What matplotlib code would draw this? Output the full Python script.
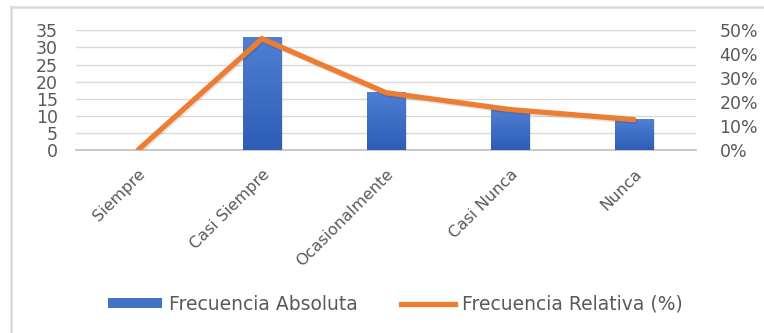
import matplotlib.pyplot as plt
import matplotlib.patheffects as pe
from matplotlib.lines import Line2D
from matplotlib.patches import Patch
from matplotlib.colors import LinearSegmentedColormap
from matplotlib.ticker import FuncFormatter
import numpy as np

plt.rcParams['font.family'] = ['DejaVu Sans']

categorias = ['Siempre', 'Casi Siempre', 'Ocasionalmente', 'Casi Nunca', 'Nunca']
absoluta = [0, 33, 17, 12, 9]
relativa = [0, 46.48, 23.94, 16.90, 12.68]  # porcentaje

texto = '#595959'
azul = '#4472C4'
naranja = '#ED7D31'

fig = plt.figure(figsize=(7.64, 3.33), dpi=100)
W, H = 764, 333
ax = fig.add_axes([76 / W, 1 - 150 / H, 620 / W, (150 - 30.3) / H])
x = np.arange(len(categorias))

# barras con degradado
bars = ax.bar(x, absoluta, width=0.31, color='none', zorder=3)
grad = np.linspace(0, 1, 64).reshape(-1, 1)
cmap = LinearSegmentedColormap.from_list('azul', ['#2d5db5', '#4f80d4'])
for b in bars:
    if b.get_height() <= 0:
        continue
    x0, w, h = b.get_x(), b.get_width(), b.get_height()
    # sombra
    ax.bar(x0 + w / 2 + 0.012, h, width=w, bottom=-0.25, color='#000000',
           alpha=0.10, zorder=2)
    im = ax.imshow(grad, extent=[x0, x0 + w, 0, h], origin='lower', cmap=cmap,
                   aspect='auto', zorder=3)
    im.set_clip_path(b)

ax.set_xlim(-0.5, len(categorias) - 0.5)
ax.set_ylim(0, 35)
ax.set_yticks(range(0, 36, 5))
ax.grid(axis='y', color='#d9d9d9', linewidth=1.0, zorder=0)
ax.set_axisbelow(True)
for s in ['top', 'right', 'left']:
    ax.spines[s].set_visible(False)
ax.spines['bottom'].set_color('#bfbfbf')
ax.spines['bottom'].set_linewidth(1.2)
ax.tick_params(axis='y', length=0, pad=13, labelsize=12.5, labelcolor=texto)
ax.tick_params(axis='x', length=0, pad=12, labelsize=11.5, labelcolor=texto)
ax.set_xticks(x)
ax.set_xticklabels(categorias, rotation=45, ha='right', rotation_mode='anchor')

ax2 = ax.twinx()
ax2.set_ylim(0, 50)
ax2.set_yticks(range(0, 51, 10))
ax2.yaxis.set_major_formatter(FuncFormatter(lambda v, p: '%d%%' % v))
ax2.tick_params(axis='y', length=0, pad=17, labelsize=12.5, labelcolor=texto)
for s in ax2.spines.values():
    s.set_visible(False)
ax2.plot(x, relativa, color=naranja, linewidth=3.8, solid_capstyle='round',
         solid_joinstyle='miter', zorder=5,
         path_effects=[pe.SimpleLineShadow(offset=(0.8, -1.2), alpha=0.10),
                       pe.Normal()])

# leyenda
handles = [Patch(facecolor=azul, edgecolor='none'),
           Line2D([], [], color=naranja, linewidth=3.8)]
fig.legend(handles, ['Frecuencia Absoluta', 'Frecuencia Relativa (%)'],
           loc='center', bbox_to_anchor=(395 / W, 1 - 304 / H), ncol=2,
           frameon=False, fontsize=13.5, handlelength=2.9, handleheight=0.5,
           handletextpad=0.35, columnspacing=2.3, labelcolor=texto)

# borde del gráfico
fig.add_artist(Line2D([11 / W, 1.0], [1 - 7 / H, 1 - 7 / H], color='#d9d9d9',
                      linewidth=1.8, transform=fig.transFigure))
fig.add_artist(Line2D([11 / W, 11 / W], [1 - 7 / H, 0.0], color='#d9d9d9',
                      linewidth=1.8, transform=fig.transFigure))

fig.savefig('out.png', dpi=100)
